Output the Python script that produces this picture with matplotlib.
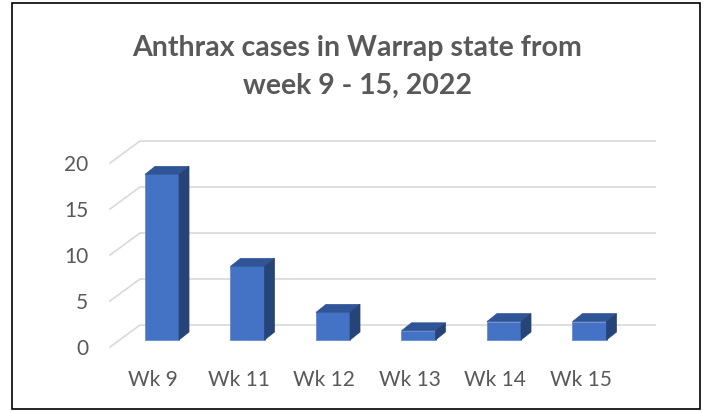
import matplotlib.pyplot as plt
from matplotlib.patches import Polygon, Rectangle

weeks = ['Wk 9', 'Wk 11', 'Wk 12', 'Wk 13', 'Wk 14', 'Wk 15']
cases = [18, 8, 3, 1, 2, 2]
yticks = [0, 5, 10, 15, 20]
title = 'Anthrax cases in Warrap state from\nweek 9 - 15, 2022'

plt.rcParams['font.family'] = ['Lato', 'DejaVu Sans']
txt = '#595959'
grid = '#d9d9d9'
front = '#4472c4'
topc = '#2f5597'
side = '#264478'

fig = plt.figure(figsize=(7.1, 4.14), dpi=100)
ax = fig.add_axes([0, 0, 1, 1])
# data units: 85.5 px per category, 9.2 px per case
ax.set_xlim(-162 / 85.5, (710 - 162) / 85.5)
ax.set_ylim((341 - 414) / 9.2, 341 / 9.2)
ax.axis('off')

bw = 0.398      # bar width
ddx = 0.117     # depth offset x
ddy = 0.87      # depth offset y
fy = -0.76      # front edge of floor
by = 1.63       # back wall offset
fx0, bx0, bx1 = -0.608, -0.257, 5.77

# gridlines: diagonal on the left side + horizontal on back wall
for v in yticks:
    ax.plot([fx0, bx0, bx1], [v + fy, v + by, v + by], color=grid, lw=1.2, zorder=1)
    ax.text(fx0 - 0.255, v + fy - 0.1, str(v), ha='right', va='center', fontsize=15, color=txt)

x = list(range(len(weeks)))
ax.bar(x, cases, width=bw, color=front, zorder=3, edgecolor='#5b84cc', lw=0.5)
for i, v in zip(x, cases):
    l, r = i - bw / 2, i + bw / 2
    ax.add_patch(Polygon([(l, v), (r, v), (r + ddx, v + ddy), (l + ddx, v + ddy)],
                         closed=True, fc=topc, ec=topc, lw=0.5, zorder=3))
    ax.add_patch(Polygon([(r, 0), (r + ddx, ddy), (r + ddx, v + ddy), (r, v)],
                         closed=True, fc=side, ec=side, lw=0.5, zorder=3))
    ax.text(i - 0.105, (341 - 380) / 9.2, weeks[i], ha='center', va='center',
            fontsize=15, color=txt)

fig.text(357 / 710, 1 - 67 / 414, title, ha='center', va='center', fontsize=20.5,
         fontweight='bold', color=txt, linespacing=1.6)

fig.patches.append(Rectangle((12 / 710, 4 / 414), 688 / 710, 406 / 414,
                             transform=fig.transFigure, fill=False, ec='black', lw=1.2))

fig.savefig('out.png', dpi=100)
